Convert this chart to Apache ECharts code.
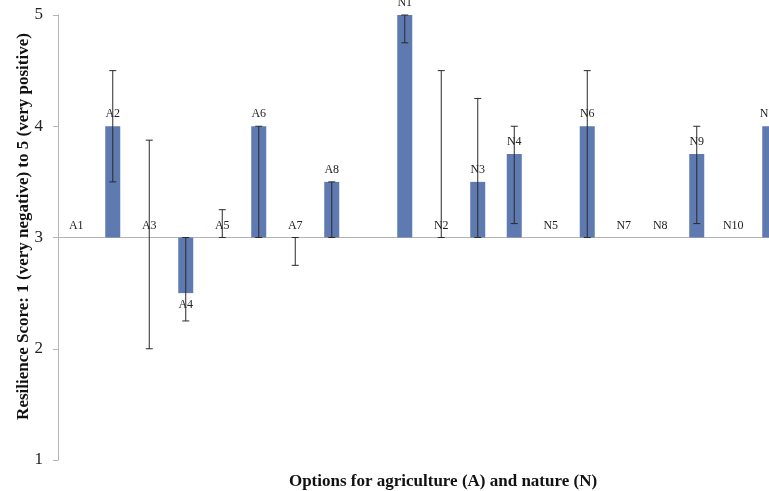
<!DOCTYPE html>
<html>
<head>
<meta charset="utf-8">
<script src="https://cdn.jsdelivr.net/npm/echarts@6/dist/echarts.min.js"></script>
<style>html,body{margin:0;padding:0;background:#fff;overflow:hidden;width:769px;height:491px}#c{width:788px;height:491px}</style>
</head>
<body>
<div id="c"></div>
<script>
const categories = ['A1','A2','A3','A4','A5','A6','A7','A8','','N1','N2','N3','N4','N5','N6','N7','N8','N9','N10','N11'];
const scores =     [3, 4, 3, 2.5, 3, 4, 3, 3.5, null, 5, 3, 3.5, 3.75, 3, 4, 3, 3, 3.75, 3, 4];
const errLow =     [null, 3.5, 2, 2.25, 3, 3, 2.75, 3, null, 4.75, 3, 3, 3.125, null, 3, null, null, 3.125, null, null];
const errHigh =    [null, 4.5, 3.875, 3, 3.25, 4, 3, 3.5, null, 5, 4.5, 4.25, 4, null, 4.5, null, null, 4, null, null];
const yTicks = [1, 2, 3, 4, 5];
const neutral = 3;

const FONT = 'Liberation Serif';
const barData = scores.map((v, i) => {
  if (v === null) return null;
  const d = v - neutral;
  return {
    value: d,
    label: { position: d < 0 ? 'bottom' : 'top' }
  };
});
const errData = errLow.map((lo, i) => lo === null ? null : [i, lo - neutral, errHigh[i] - neutral]).filter(Boolean);

const chart = echarts.init(document.getElementById('c'), null, {renderer: 'canvas'});
chart.setOption({
  animation: false,
  backgroundColor: '#fff',
  title: {
    text: 'Options for agriculture (A) and nature (N)',
    left: 438, top: 468, textAlign: 'center',
    textStyle: {fontFamily: FONT, fontWeight: 'bold', fontSize: 17, color: '#111'}
  },
  grid: {left: 58, top: 15, right: 0, bottom: 31, containLabel: false, outerBoundsMode: 'none'},
  xAxis: {
    type: 'category',
    data: categories,
    axisLine: {onZero: true, lineStyle: {color: '#b4b4b4', width: 1}},
    axisTick: {show: false},
    axisLabel: {show: false},
    splitLine: {show: false}
  },
  yAxis: {
    type: 'value',
    min: yTicks[0] - neutral, max: yTicks[yTicks.length - 1] - neutral, interval: 1,
    name: 'Resilience Score: 1 (very negative) to 5 (very positive)',
    nameLocation: 'middle', nameGap: 26, nameMoveOverlap: false,
    nameTextStyle: {fontFamily: FONT, fontWeight: 'bold', fontSize: 17, color: '#111', padding: [0, 0, 0, 22]},
    axisLine: {show: true, lineStyle: {color: '#b4b4b4'}},
    axisTick: {show: true, inside: false, length: 5, lineStyle: {color: '#b4b4b4'}},
    axisLabel: {fontFamily: FONT, fontSize: 17, color: '#222', margin: 15, formatter: v => String(v + neutral)},
    splitLine: {show: false}
  },
  series: [
    {
      type: 'bar',
      data: barData,
      barWidth: 15,
      itemStyle: {color: '#5e7ab1'},
      label: {
        show: true,
        distance: 6,
        fontFamily: FONT, fontSize: 12, color: '#222',
        formatter: p => categories[p.dataIndex]
      },
      z: 2
    },
    {
      type: 'custom',
      data: errData,
      z: 3,
      renderItem: (params, api) => {
        const x = api.value(0);
        const lo = api.coord([x, api.value(1)]);
        const hi = api.coord([x, api.value(2)]);
        const cw = 3.5;
        const st = {stroke: '#2a2a2a', lineWidth: 1};
        return {
          type: 'group',
          children: [
            {type: 'line', shape: {x1: lo[0], y1: lo[1], x2: hi[0], y2: hi[1]}, style: st},
            {type: 'line', shape: {x1: lo[0] - cw, y1: lo[1], x2: lo[0] + cw, y2: lo[1]}, style: st},
            {type: 'line', shape: {x1: hi[0] - cw, y1: hi[1], x2: hi[0] + cw, y2: hi[1]}, style: st}
          ]
        };
      }
    }
  ]
});
</script>
</body>
</html>
